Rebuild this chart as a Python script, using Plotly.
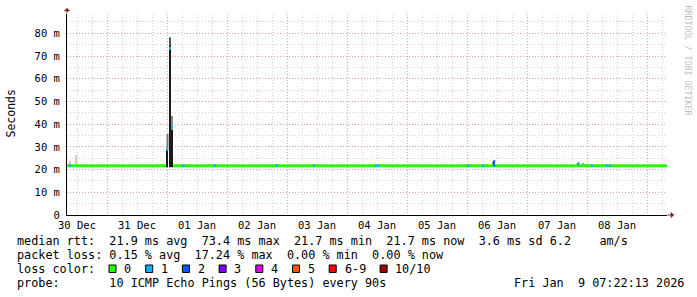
import pandas as pd
import plotly.graph_objects as go

# ---------------- data ----------------
x_start = "2025-12-30 08:00"
x_end = "2026-01-09 08:00"

# median rtt baseline (ms); None = gap where the median jumps up
base_t = ["2025-12-30 08:00", "2025-12-31 23:36", None, "2026-01-01 02:24", "2026-01-09 08:00"]
base_ms = [21.7, 21.7, None, 21.7, 21.7]

# median markers coloured by packet loss (ms, lost pings of 10)
mark_t = ["2025-12-30 09:12", "2026-01-01 00:00", "2026-01-01 01:12", "2026-01-01 02:00",
          "2026-01-01 06:41", "2026-01-01 19:12", "2026-01-02 19:53", "2026-01-03 10:48",
          "2026-01-04 11:31", "2026-01-04 12:36", "2026-01-06 00:36", "2026-01-06 06:36",
          "2026-01-06 10:53", "2026-01-06 10:53", "2026-01-07 20:36", "2026-01-08 01:55",
          "2026-01-08 07:53", "2026-01-08 09:05"]
mark_ms = [21.7, 28.9, 73.4, 38.6,
           21.7, 21.7, 21.7, 21.7,
           21.7, 21.7, 21.7, 21.7,
           21.9, 23.5, 22.6, 21.7,
           21.7, 21.7]
mark_loss = [1, 1, 1, 1,
             1, 1, 1, 1,
             1, 1, 1, 1,
             2, 2, 1, 1,
             1, 1]

# smoke (spread of the 10 pings): time, low, high (ms), shade
smoke_t = ["2025-12-30 09:05", "2025-12-30 11:40",
           "2026-01-01 00:00", "2026-01-01 00:12",
           "2026-01-01 01:12", "2026-01-01 01:12",
           "2026-01-01 02:00", "2026-01-01 02:00",
           "2026-01-06 10:36", "2026-01-07 20:19", "2026-01-07 22:24"]
smoke_lo = [21.7, 21.7, 21.0, 28.6, 21.0, 75.0, 21.0, 37.4, 21.7, 21.7, 21.7]
smoke_hi = [23.8, 26.4, 28.6, 35.8, 75.0, 78.3, 37.4, 43.6, 23.5, 22.8, 23.0]
smoke_shade = ["#c8c8c8", "#c8c8c8", "#1a1a1a", "#7a7a7a", "#1a1a1a", "#555555",
               "#1a1a1a", "#8a8a8a", "#1a1a1a", "#1a1a1a", "#b4b4b4"]

y_tick_vals = [0, 10, 20, 30, 40, 50, 60, 70, 80]
y_tick_text = ["0", "10 m", "20 m", "30 m", "40 m", "50 m", "60 m", "70 m", "80 m"]
y_minor_vals = [5, 15, 25, 35, 45, 55, 65, 75, 85]

loss_labels = ["0", "1", "2", "3", "4", "5", "6-9", "10/10"]
loss_colors = ["#26ff00", "#00b8ff", "#0059ff", "#7e00ff", "#e600ff", "#ff5500", "#ff0000", "#a10000"]

legend_rows = [
    "median rtt:  21.9 ms avg  73.4 ms max  21.7 ms min  21.7 ms now  3.6 ms sd 6.2    am/s",
    "packet loss: 0.15 % avg  17.24 % max  0.00 % min  0.00 % now",
    "loss color:",
    "probe:       10 ICMP Echo Pings (56 Bytes) every 90s",
]
stamp = "Fri Jan  9 07:22:13 2026"

# ---------------- layout constants ----------------
W, H = 697, 297
L, R, T, B = 67, 30, 14, 82
PW, PH = W - L - R, H - T - B
FONT = "DejaVu Sans Mono"
STEP_MIN = 48
MED_THICK = 1.3


def px(xp):
    return (xp - L) / PW


def py(yp):
    return (T + PH - yp) / PH


def loss_idx(n):
    if n <= 5:
        return n
    if n < 10:
        return 6
    return 7


fig = go.Figure()

# smoke bars
fig.add_trace(go.Bar(
    x=smoke_t,
    y=[h - l for h, l in zip(smoke_hi, smoke_lo)],
    base=smoke_lo,
    width=[STEP_MIN * 60000] * len(smoke_t),
    marker=dict(color=smoke_shade, line=dict(width=0)),
    opacity=1, hoverinfo="skip", showlegend=False,
))

# median baseline
fig.add_trace(go.Scatter(
    x=base_t, y=base_ms, mode="lines",
    line=dict(color=loss_colors[0], width=3),
    connectgaps=False, hoverinfo="skip", showlegend=False,
))

# loss-coloured median markers
half = pd.Timedelta(minutes=STEP_MIN / 2)
groups = {}
for t, v, n in zip(mark_t, mark_ms, mark_loss):
    groups.setdefault(loss_idx(n), []).append((pd.Timestamp(t), v))
for k, items in groups.items():
    xs, ys = [], []
    for t, v in items:
        xs += [t - half, t + half, None]
        ys += [v, v, None]
    fig.add_trace(go.Scatter(
        x=xs, y=ys, mode="lines",
        line=dict(color=loss_colors[k], width=3),
        connectgaps=False, hoverinfo="skip", showlegend=False,
    ))

grid_dash = "1px,2px"
major_col = "#e4a0a0"
minor_col = "#d2d2d2"

fig.update_layout(
    width=W, height=H,
    margin=dict(l=L, r=R, t=T, b=B, pad=0),
    paper_bgcolor="white", plot_bgcolor="white",
    barmode="overlay", showlegend=False,
    font=dict(family=FONT, size=11.8, color="black"),
    xaxis=dict(
        type="date", range=[x_start, x_end],
        tickmode="linear", tick0="2025-12-31", dtick=86400000,
        ticklabelmode="period", tickformat="%d %b",
        showgrid=True, gridcolor=major_col, gridwidth=1, griddash=grid_dash,
        minor=dict(tick0="2025-12-31", dtick=6 * 3600000, showgrid=True,
                   gridcolor=minor_col, gridwidth=1, griddash=grid_dash),
        showline=True, linecolor="black", linewidth=1,
        ticks="", zeroline=False, fixedrange=True,
        tickfont=dict(family=FONT, size=10.5, color="black"),
    ),
    yaxis=dict(
        range=[0, 88.5],
        tickmode="array", tickvals=y_tick_vals, ticktext=y_tick_text,
        showgrid=True, gridcolor=major_col, gridwidth=1, griddash=grid_dash,
        minor=dict(tickmode="array", tickvals=y_minor_vals, showgrid=True,
                   gridcolor=minor_col, gridwidth=1, griddash=grid_dash),
        showline=True, linecolor="black", linewidth=1,
        ticks="", zeroline=False, fixedrange=True, ticklabelstandoff=4,
        tickfont=dict(family=FONT, size=10.5, color="black"),
    ),
)

ann = []
# axis arrows
ann.append(dict(x=0, y=py(8), xref="paper", yref="paper", text="", showarrow=True,
                ax=0, ay=7, axref="pixel", ayref="pixel", arrowhead=1, arrowsize=1.1,
                arrowwidth=1, arrowcolor="#8b1a1a"))
ann.append(dict(x=px(674), y=0, xref="paper", yref="paper", text="", showarrow=True,
                ax=-8, ay=0, arrowhead=1, arrowsize=1.1,
                arrowwidth=1, arrowcolor="#8b1a1a"))
# axis title and watermark
ann.append(dict(x=px(10.5), y=py(114), xref="paper", yref="paper", text="Seconds",
                textangle=-90, showarrow=False, xanchor="center", yanchor="middle",
                font=dict(family=FONT, size=11.5, color="black")))
ann.append(dict(x=px(687.5), y=py(60), xref="paper", yref="paper",
                text="RRDTOOL / TOBI OETIKER", textangle=90, showarrow=False,
                xanchor="center", yanchor="middle",
                font=dict(family=FONT, size=8.3, color="#c0c0c0")))

row_mid = [240.9, 254.9, 268.9, 282.6]
for txt, ym in zip(legend_rows, row_mid):
    ann.append(dict(x=px(15), y=py(ym), xref="paper", yref="paper",
                    text=txt.replace(" ", "\u00a0"), showarrow=False,
                    xanchor="left", yanchor="middle",
                    font=dict(family=FONT, size=11.8, color="black")))
ann.append(dict(x=px(511.5), y=py(row_mid[3]), xref="paper", yref="paper",
                text=stamp.replace(" ", "\u00a0"), showarrow=False,
                xanchor="left", yanchor="middle",
                font=dict(family=FONT, size=11.8, color="black")))

# loss colour swatches
shapes = []
bx = 109.0
for lab, col in zip(loss_labels, loss_colors):
    shapes.append(dict(type="rect", xref="paper", yref="paper",
                       x0=px(bx), x1=px(bx + 7), y0=py(272.5), y1=py(265),
                       fillcolor=col, line=dict(color="black", width=1)))
    lx = bx + 14.3
    ann.append(dict(x=px(lx - 1), y=py(row_mid[2]), xref="paper", yref="paper",
                    text=lab, showarrow=False, xanchor="left", yanchor="middle",
                    font=dict(family=FONT, size=11.8, color="black")))
    bx = lx + len(lab) * 7.1 + 15.3

fig.update_layout(annotations=ann, shapes=shapes)

fig.write_html("out.html")
